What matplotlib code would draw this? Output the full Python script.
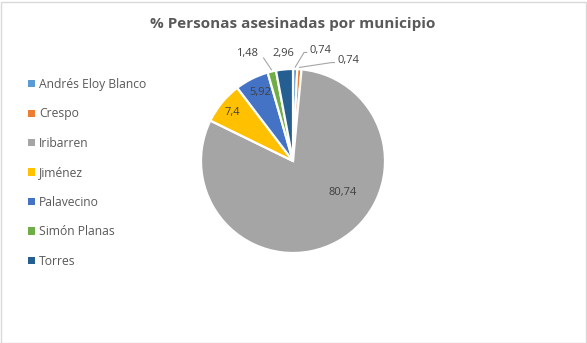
import matplotlib
matplotlib.use("Agg")
import matplotlib.pyplot as plt
from matplotlib.patches import Rectangle, Patch
import numpy as np

plt.rcParams['font.family'] = ['Open Sans', 'DejaVu Sans']

municipios = ['Andrés Eloy Blanco', 'Crespo', 'Iribarren', 'Jiménez',
              'Palavecino', 'Simón Planas', 'Torres']
porcentajes = [0.74, 0.74, 80.74, 7.4, 5.92, 1.48, 2.96]
etiquetas = ['0,74', '0,74', '80,74', '7,4', '5,92', '1,48', '2,96']
colores = ['#5B9BD5', '#ED7D31', '#A5A5A5', '#FFC000', '#4472C4', '#70AD47', '#255E91']

# label positions (axes data units, pie radius = 1) and whether a leader line is drawn
pos_etiq = [(0.30, 1.20), (0.60, 1.09), (0.54, -0.34), (-0.66, 0.53),
            (-0.36, 0.75), (-0.50, 1.17), (-0.11, 1.17)]
lineas = [True, True, False, False, False, True, False]

W, H = 587, 343
fig = plt.figure(figsize=(W / 100, H / 100), dpi=100)
fig.patches.append(Rectangle((0.5 / W, 0.5 / H), (W - 2) / W, (H - 2) / H,
                             transform=fig.transFigure, fill=False,
                             edgecolor='#D9D9D9', linewidth=1))

cx, cy, r = 293, 161, 92
ax = fig.add_axes([(cx - r) / W, (H - cy - r) / H, 2 * r / W, 2 * r / H])
wedges, _ = ax.pie(porcentajes, colors=colores, startangle=90, counterclock=False,
                   radius=1, wedgeprops=dict(edgecolor='white', linewidth=1.6))
ax.set_xlim(-1, 1)
ax.set_ylim(-1, 1)
ax.set_aspect('equal')
ax.axis('off')

for w, txt, (x, y), ln in zip(wedges, etiquetas, pos_etiq, lineas):
    ax.text(x, y, txt, ha='center', va='center', fontsize=8, color='#404040',
            clip_on=False)
    if ln:
        ang = np.deg2rad((w.theta1 + w.theta2) / 2)
        ex, ey = np.cos(ang), np.sin(ang)
        if x > ex:
            lx = x - 0.18
            ax.plot([ex * 1.02, lx, lx + 0.03], [ey * 1.02, y - 0.02, y - 0.02],
                    color='#A6A6A6', lw=0.8, clip_on=False)
        else:
            lx = x + 0.18
            ax.plot([ex * 1.02, lx], [ey * 1.02, y - 0.05],
                    color='#A6A6A6', lw=0.8, clip_on=False)

fig.text(293 / W, 1 - 24 / H, '% Personas asesinadas por municipio', ha='center',
         va='center', fontsize=11, fontweight='bold', color='#595959')

handles = [Patch(facecolor=c, edgecolor='none') for c in colores]
fig.legend(handles, municipios, loc='upper left', bbox_to_anchor=(22 / W, 1 - 72 / H),
           frameon=False, fontsize=8.7, labelcolor='#595959', handlelength=0.55,
           handleheight=0.55, handletextpad=0.35, labelspacing=1.36, borderpad=0)

fig.savefig('out.png', dpi=100)
